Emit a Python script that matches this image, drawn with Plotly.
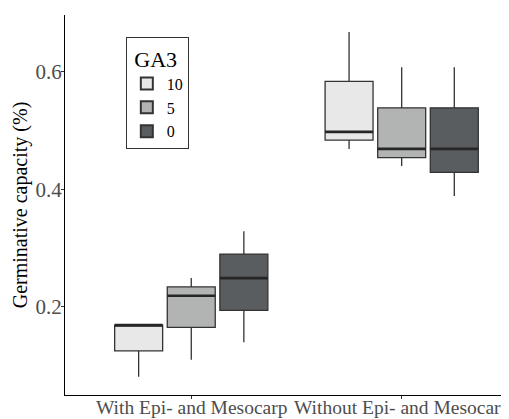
import plotly.graph_objects as go

categories = ["With Epi- and Mesocarp", "Without Epi- and Mesocarp"]
doses = ["10", "5", "0"]

# per dose: values for [With, Without]
lower = {"10": [0.081, 0.469], "5": [0.110, 0.440], "0": [0.140, 0.389]}
q1 = {"10": [0.125, 0.484], "5": [0.165, 0.454], "0": [0.194, 0.429]}
median = {"10": [0.169, 0.498], "5": [0.219, 0.469], "0": [0.249, 0.469]}
q3 = {"10": [0.169, 0.584], "5": [0.234, 0.539], "0": [0.290, 0.539]}
upper = {"10": [0.169, 0.668], "5": [0.249, 0.608], "0": [0.329, 0.608]}

fills = {"10": "#E8E8E8", "5": "#B2B4B4", "0": "#595D5F"}
offsets = {"10": -0.25, "5": 0.0, "0": 0.25}
box_w = 0.228
serif = "Liberation Serif"

fig = go.Figure()
for d in doses:
    xs = [i + offsets[d] for i in range(len(categories))]
    fig.add_trace(go.Box(
        x=xs, q1=q1[d], median=median[d], q3=q3[d],
        lowerfence=lower[d], upperfence=upper[d],
        width=box_w, whiskerwidth=0, name=d,
        fillcolor=fills[d], line=dict(color="#333333", width=1.3),
        boxpoints=False, hoverinfo="skip",
    ))
# thicker median lines, as in ggplot
for d in doses:
    mx, my = [], []
    for i in range(len(categories)):
        c = i + offsets[d]
        mx += [c - box_w / 2, c + box_w / 2, None]
        my += [median[d][i], median[d][i], None]
    fig.add_trace(go.Scatter(x=mx, y=my, mode="lines",
                             line=dict(color="#262626", width=2.6),
                             showlegend=False, hoverinfo="skip"))

# category labels placed just under the axis
for i, c in enumerate(categories):
    fig.add_annotation(x=i, y=0, xref="x", yref="paper", text=c,
                       showarrow=False, yanchor="top", yshift=0,
                       font=dict(size=19.5, color="#4D4D4D", family=serif))

fig.update_layout(
    width=509, height=419,
    margin=dict(l=57, r=8, t=7, b=32),
    paper_bgcolor="white", plot_bgcolor="white",
    boxmode="overlay",
    font=dict(family=serif, color="#4D4D4D"),
    showlegend=True,
    legend=dict(
        title=dict(text=" GA3", font=dict(size=22, color="#000000", family=serif)),
        font=dict(size=16, color="#000000", family=serif),
        x=0.137, y=0.942, xanchor="left", yanchor="top",
        bgcolor="white", bordercolor="#333333", borderwidth=1,
        tracegroupgap=0, itemsizing="constant",
    ),
    xaxis=dict(
        range=[-0.6, 1.51], tickvals=[0, 1], ticktext=["", ""],
        showgrid=False, zeroline=False, showline=True, linecolor="#000000", linewidth=1,
        ticks="outside", ticklen=3, tickcolor="#333333", automargin=False,
    ),
    yaxis=dict(
        range=[0.05, 0.697], tickvals=[0.2, 0.4, 0.6], ticktext=["0.2", "0.4", "0.6"],
        showgrid=False, zeroline=False, showline=True, linecolor="#000000", linewidth=1,
        ticks="outside", ticklen=3, tickcolor="#333333", automargin=False,
        ticklabelstandoff=-5,
        tickfont=dict(size=21, color="#4D4D4D", family=serif),
        title=dict(text="Germinative capacity (%)", standoff=2,
                   font=dict(size=20, color="#000000", family=serif)),
    ),
)

fig.write_html("out.html")
